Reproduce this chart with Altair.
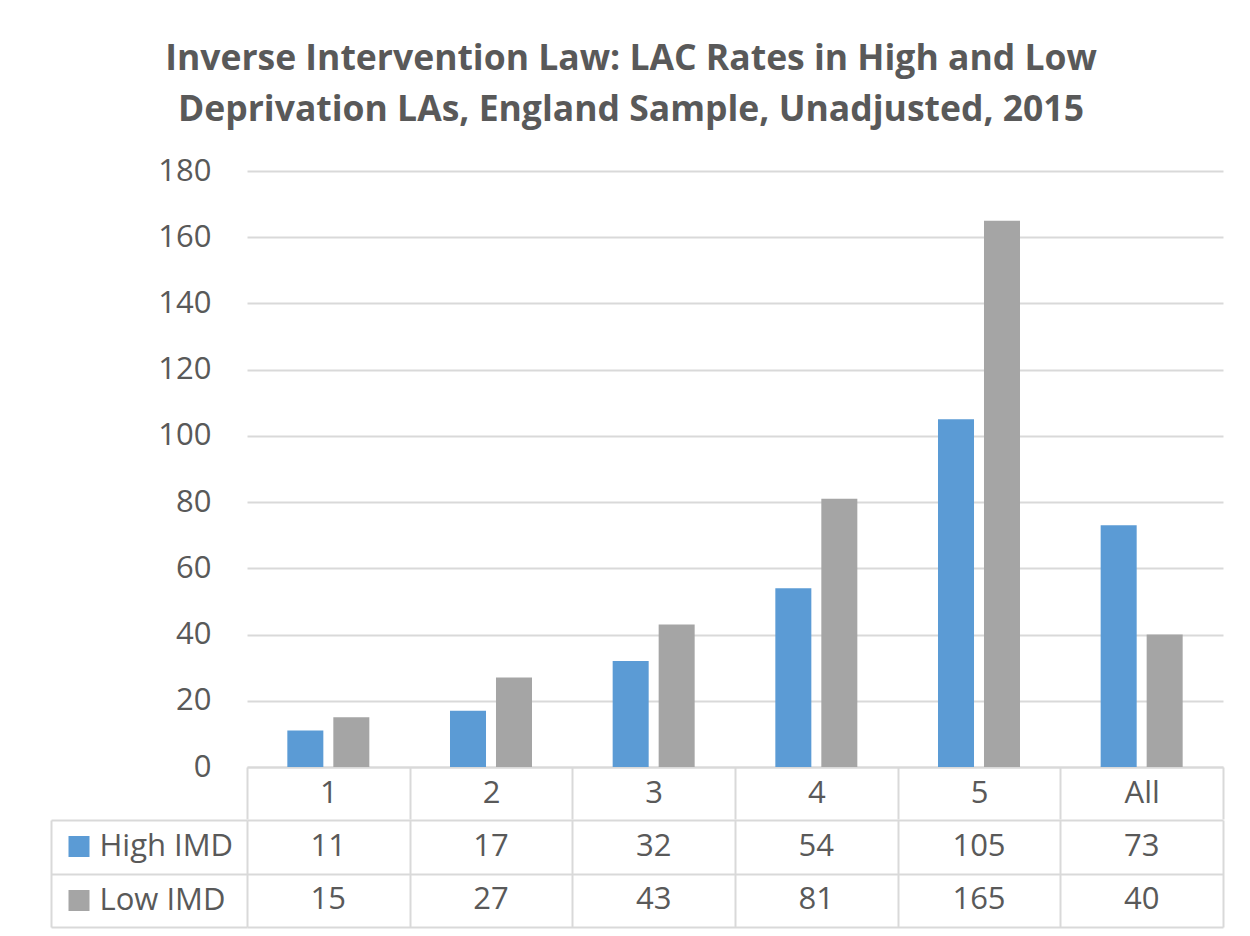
import altair as alt
import pandas as pd

# ---- data ----
categories = ["1", "2", "3", "4", "5", "All"]
series = ["High IMD", "Low IMD"]
high_imd = [11, 17, 32, 54, 105, 73]
low_imd = [15, 27, 43, 81, 165, 40]
series_colors = ["#5B9BD5", "#A5A5A5"]
y_ticks = [0, 20, 40, 60, 80, 100, 120, 140, 160, 180]
title_lines = [
    "Inverse Intervention Law: LAC Rates in High and Low",
    "Deprivation LAs, England Sample, Unadjusted, 2015",
]

records = []
for c, h, l in zip(categories, high_imd, low_imd):
    records.append({"category": c, "series": series[0], "value": h})
    records.append({"category": c, "series": series[1], "value": l})
df = pd.DataFrame(records)

FONT = "Open Sans"
TXT = "#595959"
LINE = "#D9D9D9"
FS = 31

x_scale = alt.Scale(domain=categories, paddingInner=0, paddingOuter=0)
row_scale = alt.Scale(domain=series, paddingInner=0, paddingOuter=0)
color_scale = alt.Scale(domain=series, range=series_colors)

bars = alt.Chart(df).mark_bar().encode(
    x=alt.X(
        "category:N", sort=categories, scale=x_scale,
        axis=alt.Axis(
            title=None, orient="bottom", labelAngle=0,
            domain=True, domainColor=LINE, domainWidth=2,
            ticks=True, tickBand="extent", tickSize=52, tickColor=LINE, tickWidth=2,
            labelFont=FONT, labelFontSize=FS, labelColor=TXT,
            labelBaseline="middle", labelPadding=-26, grid=False,
        ),
    ),
    xOffset=alt.XOffset(
        "series:N", sort=series,
        scale=alt.Scale(domain=series, paddingInner=0.217, paddingOuter=0.877),
    ),
    y=alt.Y(
        "value:Q", scale=alt.Scale(domain=[0, 180]),
        axis=alt.Axis(
            title=None, values=y_ticks, grid=True, gridColor=LINE, gridWidth=2,
            domain=False, ticks=False, labelFont=FONT, labelFontSize=FS,
            labelColor=TXT, labelPadding=36,
        ),
    ),
    color=alt.Color("series:N", scale=color_scale, legend=None),
).properties(width=976, height=596)

table_text = alt.Chart(df).mark_text(font=FONT, fontSize=FS, color=TXT).encode(
    x=alt.X(
        "category:N", sort=categories, scale=x_scale,
        axis=alt.Axis(
            title=None, orient="bottom", labels=False, ticks=False, domain=False,
            grid=True, tickBand="extent", gridColor=LINE, gridWidth=2,
        ),
    ),
    y=alt.Y(
        "series:N", sort=series, scale=row_scale,
        axis=alt.Axis(
            title=None, orient="left", grid=True, tickBand="extent",
            gridColor=LINE, gridWidth=2, ticks=True, tickSize=196,
            tickColor=LINE, tickWidth=2, domain=False,
            labelAlign="left", labelPadding=-48, labelFont=FONT,
            labelFontSize=FS, labelColor=TXT,
        ),
    ),
    text=alt.Text("value:Q"),
)

keys = alt.Chart(df).mark_point(opacity=0).encode(
    y=alt.Y(
        "series:N", sort=series, scale=row_scale,
        axis=alt.Axis(
            title=None, orient="left", offset=158, domain=False, labels=False,
            grid=False, ticks=True, tickSize=21, tickWidth=21,
            tickColor=alt.condition(
                alt.datum.value == series[0],
                alt.value(series_colors[0]), alt.value(series_colors[1]),
            ),
        ),
    ),
)

border = alt.Chart(df).mark_point(opacity=0).encode(
    y=alt.Y(
        "series:N", sort=series, scale=row_scale,
        axis=alt.Axis(
            title=None, orient="left", offset=196, domain=True,
            domainColor=LINE, domainWidth=2, labels=False, ticks=False, grid=False,
        ),
    ),
)

bottom = alt.layer(table_text, keys, border).resolve_axis(y="independent").properties(
    width=976, height=107
)

chart = alt.vconcat(bars, bottom, spacing=-16).properties(
    title=alt.TitleParams(
        text=title_lines, font=FONT, fontSize=35.5, dx=-6,
        fontWeight="bold", color=TXT, lineHeight=51, anchor="middle", offset=27,
    ),
    padding={"left": 42, "top": 33, "right": 10, "bottom": 2},
).configure_view(stroke=None)

chart.save("out.html", embed_options={"renderer": "svg", "actions": False})
